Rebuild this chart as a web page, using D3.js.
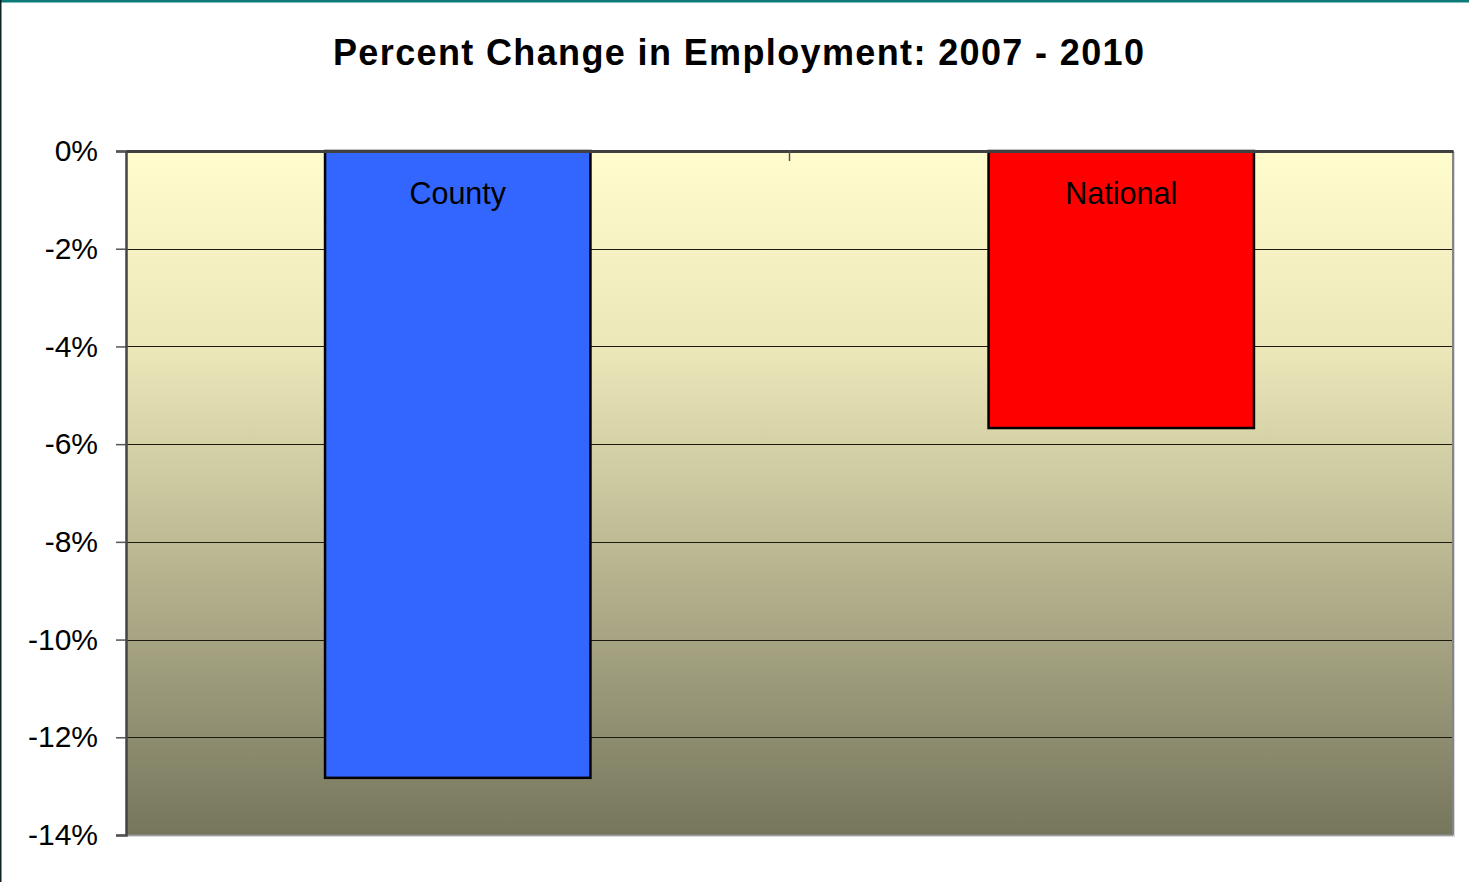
<!DOCTYPE html>
<html>
<head>
<meta charset="utf-8">
<script src="https://cdn.jsdelivr.net/npm/d3@7"></script>
<style>
  html, body { margin: 0; padding: 0; background: #fff; }
  svg { display: block; }
</style>
</head>
<body>
<div id="chart"></div>
<script>
// data
const categories = ["County", "National"];
const values = [-12.83, -5.67];
const barColors = ["#3366ff", "#ff0000"];
const yTicks = [0, -2, -4, -6, -8, -10, -12, -14];
const title = "Percent Change in Employment: 2007 - 2010";

const width = 1469, height = 882;
const margin = { top: 151, right: 16, bottom: 47, left: 126 };

const svg = d3.select("#chart").append("svg")
  .attr("width", width)
  .attr("height", height);

// outer frame lines
svg.append("rect").attr("x", 0).attr("y", 0).attr("width", width).attr("height", 2.5).attr("fill", "#0b7a78");
svg.append("rect").attr("x", 0).attr("y", 0).attr("width", 1.5).attr("height", height).attr("fill", "#0c2424");

// gradient for plot background
const defs = svg.append("defs");
const grad = defs.append("linearGradient")
  .attr("id", "bg")
  .attr("x1", 0).attr("y1", 0).attr("x2", 0).attr("y2", 1);
grad.append("stop").attr("offset", "0%").attr("stop-color", "#fffccd");
grad.append("stop").attr("offset", "30%").attr("stop-color", "#ebe6b8");
grad.append("stop").attr("offset", "100%").attr("stop-color", "#76765d");

const x = d3.scaleBand()
  .domain(categories)
  .range([margin.left, width - margin.right])
  .paddingInner(0.6)
  .paddingOuter(0.3);

const y = d3.scaleLinear()
  .domain([-14, 0])
  .range([height - margin.bottom, margin.top]);

const x0 = margin.left, x1 = width - margin.right;

// shadow + plot area
svg.append("rect")
  .attr("x", x0 + 1).attr("y", y(0) + 1)
  .attr("width", x1 - x0 + 1).attr("height", y(-14) - y(0) + 1)
  .attr("fill", "#d8d8d8");
svg.append("rect")
  .attr("x", x0).attr("y", y(0))
  .attr("width", x1 - x0).attr("height", y(-14) - y(0))
  .attr("fill", "url(#bg)");

// gridlines
svg.append("g")
  .selectAll("line")
  .data(yTicks.filter(d => d !== 0 && d !== -14))
  .enter()
  .append("line")
  .attr("x1", x0).attr("x2", x1)
  .attr("y1", d => Math.round(y(d)) + 0.5)
  .attr("y2", d => Math.round(y(d)) + 0.5)
  .attr("stroke", "#1a1a10")
  .attr("stroke-width", 1);

// plot border
svg.append("line").attr("x1", x1).attr("x2", x1).attr("y1", y(0)).attr("y2", y(-14))
  .attr("stroke", "#858585").attr("stroke-width", 2);
svg.append("line").attr("x1", x0).attr("x2", x1).attr("y1", y(-14)).attr("y2", y(-14))
  .attr("stroke", "#8a8a8a").attr("stroke-width", 1.5);

// bars
svg.selectAll("rect.bar")
  .data(categories)
  .enter()
  .append("rect")
  .attr("class", "bar")
  .attr("x", d => x(d))
  .attr("y", y(0))
  .attr("width", x.bandwidth())
  .attr("height", (d, i) => y(values[i]) - y(0))
  .attr("fill", (d, i) => barColors[i])
  .attr("stroke", "#000")
  .attr("stroke-width", 2.5);

// bar labels
svg.selectAll("text.lbl")
  .data(categories)
  .enter()
  .append("text")
  .attr("class", "lbl")
  .attr("x", d => x(d) + x.bandwidth() / 2)
  .attr("y", 204)
  .attr("text-anchor", "middle")
  .attr("font-family", "Liberation Sans, Arial, sans-serif")
  .attr("font-size", 30.5)
  .attr("fill", "#000")
  .text(d => d);

// y axis
const yAxis = svg.append("g")
  .attr("transform", `translate(${x0},0)`)
  .call(d3.axisLeft(y).tickValues(yTicks).tickSize(10).tickPadding(18).tickFormat(d => d + "%"));
yAxis.select(".domain").attr("stroke", "#444").attr("stroke-width", 2.5);
yAxis.selectAll(".tick line").attr("stroke", "#555").attr("stroke-width", 1.5);
yAxis.selectAll(".tick text")
  .attr("font-family", "Liberation Sans, Arial, sans-serif")
  .attr("font-size", 30)
  .attr("fill", "#000");

// category axis at zero (ticks between categories)
const xAxis = svg.append("g")
  .attr("transform", `translate(0,${y(0)})`)
  .call(d3.axisBottom(x).tickSize(0).tickFormat(""));
xAxis.select(".domain").attr("stroke", "#404040").attr("stroke-width", 3);
svg.append("line")
  .attr("x1", (x(categories[0]) + x.bandwidth() + x(categories[1])) / 2)
  .attr("x2", (x(categories[0]) + x.bandwidth() + x(categories[1])) / 2)
  .attr("y1", y(0)).attr("y2", y(0) + 10)
  .attr("stroke", "#555").attr("stroke-width", 1.5);

// title
svg.append("text")
  .attr("x", 738.5)
  .attr("y", 65)
  .attr("text-anchor", "middle")
  .attr("font-family", "Liberation Sans, Arial, sans-serif")
  .attr("font-weight", "bold")
  .attr("font-size", 36)
  .attr("textLength", 811)
  .attr("lengthAdjust", "spacing")
  .attr("fill", "#000")
  .text(title);
</script>
</body>
</html>
